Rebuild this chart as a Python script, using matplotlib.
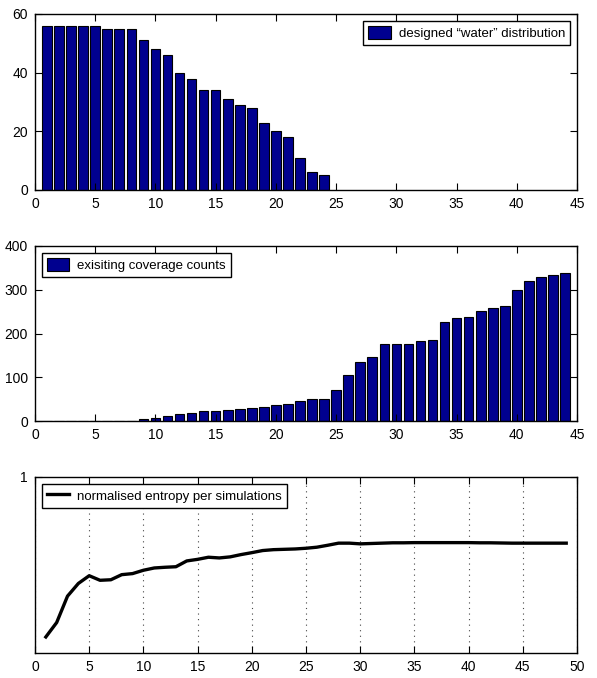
import matplotlib
matplotlib.use("Agg")
import matplotlib.pyplot as plt
import numpy as np

# 设计的"water"分布
water_x = np.arange(1, 25)
water_counts = [56, 56, 56, 56, 56, 55, 55, 55, 51, 48, 46, 40, 38, 34, 34,
                31, 29, 28, 23, 20, 18, 11, 6, 5]

# 已有覆盖计数
cov_x = np.arange(1, 45)
cov_counts = [0, 0, 0, 0, 0, 1, 1, 1, 5, 8, 11, 17, 19, 22, 22, 25, 27, 29,
              33, 36, 39, 45, 50, 51, 71, 106, 135, 146, 175, 175, 175, 183,
              185, 226, 236, 237, 252, 259, 263, 299, 321, 329, 334, 338]

# 每次模拟的归一化熵
ent_x = np.arange(1, 50)
entropy = [0.091, 0.173, 0.323, 0.395, 0.439, 0.413, 0.416, 0.445, 0.451,
           0.470, 0.483, 0.487, 0.490, 0.523, 0.532, 0.544, 0.540, 0.546,
           0.559, 0.570, 0.582, 0.587, 0.589, 0.591, 0.595, 0.601, 0.612,
           0.624, 0.624, 0.620, 0.622, 0.624, 0.626, 0.626, 0.627, 0.627,
           0.627, 0.627, 0.627, 0.627, 0.626, 0.626, 0.625, 0.624, 0.624,
           0.624, 0.624, 0.624, 0.624]

plt.rcParams['font.family'] = ['Liberation Sans', 'DejaVu Sans']
plt.rcParams['font.size'] = 10
plt.rcParams['xtick.direction'] = 'in'
plt.rcParams['ytick.direction'] = 'in'
plt.rcParams['xtick.top'] = True
plt.rcParams['ytick.right'] = True
plt.rcParams['axes.linewidth'] = 1.0

bar_color = '#00008f'

fig = plt.figure(figsize=(5.97, 6.78), dpi=100)
ax1 = fig.add_axes([0.0586, 0.7198, 0.908, 0.2596])
ax2 = fig.add_axes([0.0586, 0.3790, 0.908, 0.2582])
ax3 = fig.add_axes([0.0586, 0.0369, 0.908, 0.2596])


def legend_box(ax, loc):
    leg = ax.legend(loc=loc, fancybox=False, framealpha=1, edgecolor='black',
                    fontsize=9.5, borderaxespad=0.5, handlelength=1.7,
                    handleheight=1.1, handletextpad=0.6, borderpad=0.4)
    leg.get_frame().set_linewidth(1.0)
    return leg


# 1. 设计分布
ax1.bar(water_x, water_counts, width=0.8, color=bar_color, edgecolor='black',
        linewidth=0.8, label='designed \u201cwater\u201d distribution')
ax1.set_xlim(0, 45)
ax1.set_ylim(0, 60)
ax1.set_xticks(range(0, 46, 5))
ax1.set_yticks([0, 20, 40, 60])
legend_box(ax1, 'upper right')

# 2. 覆盖计数
ax2.bar(cov_x, cov_counts, width=0.8, color=bar_color, edgecolor='black',
        linewidth=0.8, label='exisiting coverage counts')
ax2.set_xlim(0, 45)
ax2.set_ylim(0, 400)
ax2.set_xticks(range(0, 46, 5))
ax2.set_yticks([0, 100, 200, 300, 400])
legend_box(ax2, 'upper left')

# 3. 归一化熵
ax3.plot(ent_x, entropy, color='black', linewidth=2.4,
         label='normalised entropy per simulations')
ax3.set_xlim(0, 50)
ax3.set_ylim(0, 1)
ax3.set_xticks(range(0, 51, 5))
ax3.set_yticks([1])
ax3.grid(True, axis='x', linestyle=(0, (1, 4)), color='#444444', linewidth=0.8)
legend_box(ax3, 'upper left')

for ax in (ax1, ax2, ax3):
    ax.tick_params(length=5, width=0.8, labelsize=10, pad=5)

fig.savefig('out.png', dpi=100)
